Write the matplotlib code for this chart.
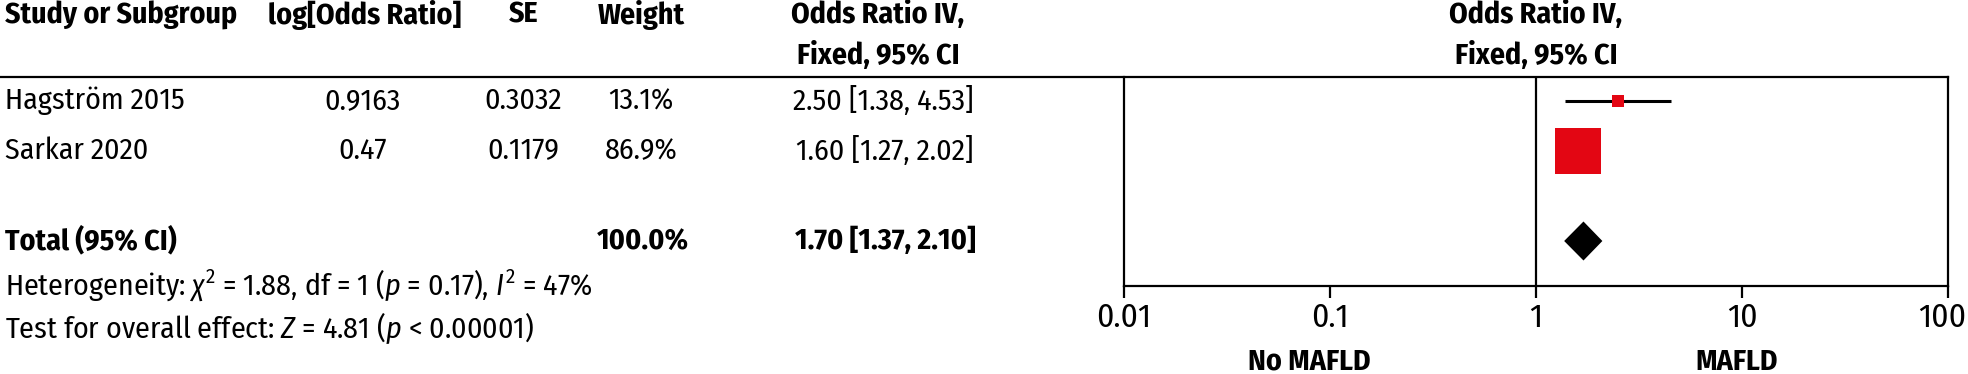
import matplotlib
matplotlib.use("Agg")
import matplotlib.pyplot as plt
from matplotlib import font_manager as fm
from matplotlib.lines import Line2D
from matplotlib.transforms import blended_transform_factory, ScaledTranslation

# ---------------- data ----------------
studies = ["Hagström 2015", "Sarkar 2020"]
log_or = [0.9163, 0.47]
se = [0.3032, 0.1179]
weights = [13.1, 86.9]
or_est = [2.50, 1.60]
ci_lo = [1.38, 1.27]
ci_hi = [4.53, 2.02]

total_label = "Total (95% CI)"
total_weight = 100.0
total_or = 1.70
total_lo = 1.37
total_hi = 2.10

chi2 = 1.88
df_het = 1
p_het = 0.17
i2 = 47
z_val = 4.81

xticks = [0.01, 0.1, 1, 10, 100]
xtick_labels = ["0.01", "0.1", "1", "10", "100"]
left_label = "No MAFLD"
right_label = "MAFLD"

# ---------------- fonts ----------------
names = {f.name for f in fm.fontManager.ttflist}
fam = "DejaVu Sans"
for cand in ["Fira Sans Condensed", "Asap Condensed", "PT Sans Narrow",
             "Archivo Narrow", "Liberation Sans"]:
    if cand in names:
        fam = cand
        break
fs = 21.5
tick_fs = 24
plt.rcParams["font.family"] = [fam, "DejaVu Sans"]
plt.rcParams["mathtext.fontset"] = "custom"
plt.rcParams["mathtext.rm"] = fam
plt.rcParams["mathtext.it"] = fam + ":italic"
plt.rcParams["mathtext.bf"] = fam + ":bold"

W, H = 1968, 374
fig = plt.figure(figsize=(W / 100, H / 100), dpi=100)


def px(x):
    return x / W


def py(y):
    return 1 - y / H


# forest axes
ax = fig.add_axes([px(1124), py(286), px(1948) - px(1124), py(77) - py(286)])
ax.set_xscale("log")
ax.set_xlim(0.01, 100)
row_y = [0, 1]
total_y = 2.8
ax.set_ylim(3.7, -0.48)

red = "#E30613"
for i in range(len(studies)):
    ax.plot([ci_lo[i], ci_hi[i]], [row_y[i], row_y[i]], color="black", lw=2.2, zorder=2,
            solid_capstyle="butt")
    side_px = 46 * (weights[i] / 86.9) ** 0.7
    ax.plot([or_est[i]], [row_y[i]], marker="s", markersize=side_px * 0.72,
            color=red, markeredgewidth=0, zorder=3, linestyle="none")

hh = 0.39
ax.fill([total_lo, total_or, total_hi, total_or],
        [total_y, total_y - hh, total_y, total_y + hh], color="black", lw=0, zorder=3)

ax.axvline(1, color="black", lw=1.6, zorder=1)

for s in ["left", "right", "bottom"]:
    ax.spines[s].set_linewidth(1.6)
ax.spines["top"].set_visible(False)
ax.set_yticks([])
ax.set_xticks(xticks)
ax.set_xticklabels(xtick_labels)
ax.minorticks_off()
ax.tick_params(axis="x", direction="out", length=8.5, width=1.6, pad=2.5, labelsize=tick_fs)
# keep the last tick label inside the canvas
last = ax.get_xticklabels()[-1]
last.set_transform(last.get_transform() + ScaledTranslation(-6 / 100, 0, fig.dpi_scale_trans))

# top line across full width
fig.add_artist(Line2D([0, px(1948)], [py(77), py(77)], transform=fig.transFigure,
                      color="black", lw=1.6))

# headers
hdr = dict(fontsize=fs, fontweight="bold", va="center")
fig.text(px(5), py(15), "Study or Subgroup", ha="left", **hdr)
fig.text(px(365), py(15), "log[Odds Ratio]", ha="center", **hdr)
fig.text(px(524), py(15), "SE", ha="center", **hdr)
fig.text(px(641), py(15), "Weight", ha="center", **hdr)
fig.text(px(878), py(15), "Odds Ratio IV,", ha="center", **hdr)
fig.text(px(878), py(56), "Fixed, 95% CI", ha="center", **hdr)
fig.text(px(1536), py(15), "Odds Ratio IV,", ha="center", **hdr)
fig.text(px(1536), py(56), "Fixed, 95% CI", ha="center", **hdr)

# table rows (x in figure, y in data)
tr = blended_transform_factory(fig.transFigure, ax.transData)
row = dict(fontsize=fs, va="center", transform=tr)
for i in range(len(studies)):
    y = row_y[i]
    fig.text(px(5), y, studies[i], ha="left", **row)
    fig.text(px(363), y, f"{log_or[i]}", ha="center", **row)
    fig.text(px(523), y, f"{se[i]}", ha="center", **row)
    fig.text(px(641), y, f"{weights[i]:.1f}%", ha="center", **row)
    fig.text(px(974), y, f"{or_est[i]:.2f} [{ci_lo[i]:.2f}, {ci_hi[i]:.2f}]", ha="right", **row)

fig.text(px(5), total_y, total_label, ha="left", fontweight="bold", **row)
fig.text(px(643), total_y, f"{total_weight:.1f}%", ha="center", fontweight="bold", **row)
fig.text(px(976), total_y, f"{total_or:.2f} [{total_lo:.2f}, {total_hi:.2f}]", ha="right",
         fontweight="bold", **row)

fig.text(px(5), py(285),
         rf"Heterogeneity: $\chi^2$ = {chi2:.2f}, df = {df_het} ($p$ = {p_het:.2f}), $I^2$ = {i2}%",
         ha="left", va="center", fontsize=fs)
fig.text(px(5), py(328),
         rf"Test for overall effect: $Z$ = {z_val:.2f} ($p$ < 0.00001)",
         ha="left", va="center", fontsize=fs)

fig.text(px(1309), py(362), left_label, ha="center", va="center", fontsize=fs, fontweight="bold")
fig.text(px(1737), py(362), right_label, ha="center", va="center", fontsize=fs, fontweight="bold")

fig.savefig("out.png", dpi=100)
